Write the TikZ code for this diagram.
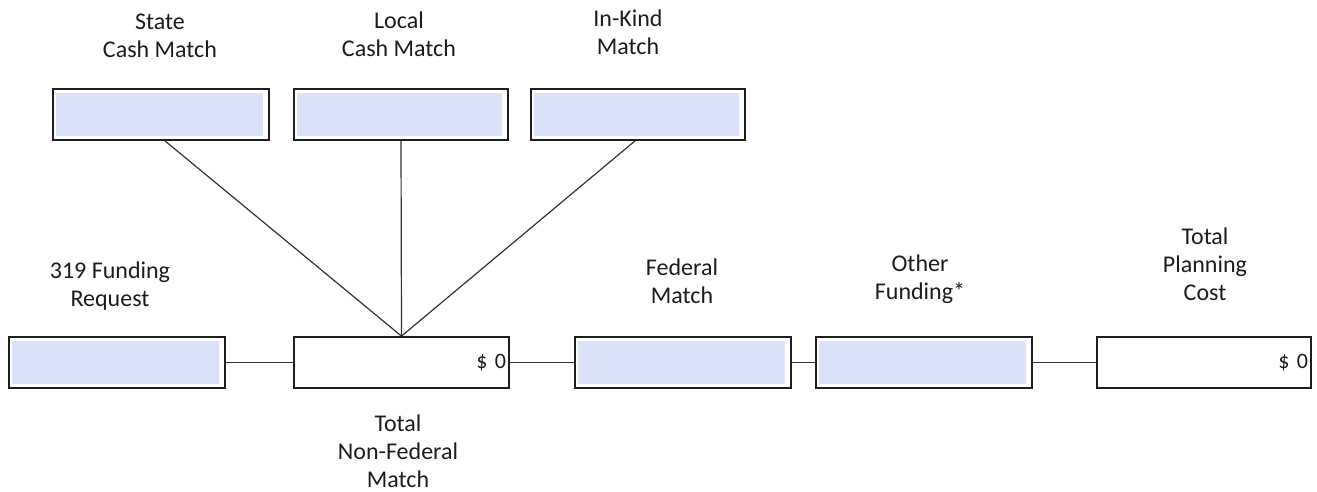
\documentclass[tikz,border=0pt]{standalone}
\usepackage{fontspec}
\setmainfont{Carlito}
\definecolor{boxblue}{RGB}{218,226,250}
\definecolor{boxline}{RGB}{30,30,30}
\definecolor{linkgray}{RGB}{50,50,50}
\definecolor{captext}{RGB}{28,28,28}
\tikzset{
  fieldbox/.style={draw=boxline, line width=1.8pt, fill=white, minimum height=51pt, inner sep=0pt,
    path picture={\fill[boxblue] ([shift={(3pt,-4pt)}]path picture bounding box.north west) rectangle ([shift={(-6pt,4pt)}]path picture bounding box.south east);}},
  sumbox/.style={draw=boxline, line width=1.8pt, fill=white, minimum height=51pt, inner xsep=3pt, align=right, font=\fontsize{22}{26}\selectfont, text=captext},
  caption/.style={align=center, font=\fontsize{24}{28}\selectfont, text=captext},
  link/.style={draw=linkgray, line width=1.2pt}
}

\begin{document}
\begin{tikzpicture}[x=1pt,y=-1pt]
\useasboundingbox (0,0) rectangle (1317,491);
\node[caption] (state_cap) at (160,36) {State\\Cash Match};
\node[caption] (local_cap) at (399,34) {Local\\Cash Match};
\node[caption] (kind_cap) at (628,32) {In-Kind\\Match};
\node[fieldbox, minimum width=216pt] (state_box) at (161,114.5) {};
\node[fieldbox, minimum width=214pt] (local_box) at (401,114.5) {};
\node[fieldbox, minimum width=214pt] (kind_box) at (638,114.5) {};
\node[caption] (req_cap) at (110,286) {319 Funding\\Request};
\node[caption] (fed_cap) at (682,281) {Federal\\Match};
\node[caption] (oth_cap) at (920,279) {Other\\Funding*};
\node[caption] (tpc_cap) at (1205,264) {Total\\Planning\\Cost};
\node[caption] (nf_cap) at (398,451) {Total\\Non-Federal\\Match};
\node[fieldbox, minimum width=216pt] (req_box) at (117,362.5) {};
\node[sumbox, text width=209pt] (nf_box) at (401.5,362.5) {\$ 0};
\node[fieldbox, minimum width=216pt] (fed_box) at (683,362.5) {};
\node[fieldbox, minimum width=216pt] (oth_box) at (924,362.5) {};
\node[sumbox, text width=208pt] (tpc_box) at (1204,362.5) {\$ 0};
\draw[link] (state_box.south) ++(4,0) -- (nf_box.north);
\draw[link] (local_box.south) -- (nf_box.north);
\draw[link] (kind_box.south) ++(-3,0) -- (nf_box.north);
\draw[link] (req_box) -- (nf_box);
\draw[link] (nf_box) -- (fed_box);
\draw[link] (fed_box) -- (oth_box);
\draw[link] (oth_box) -- (tpc_box);
\end{tikzpicture}
\end{document}
